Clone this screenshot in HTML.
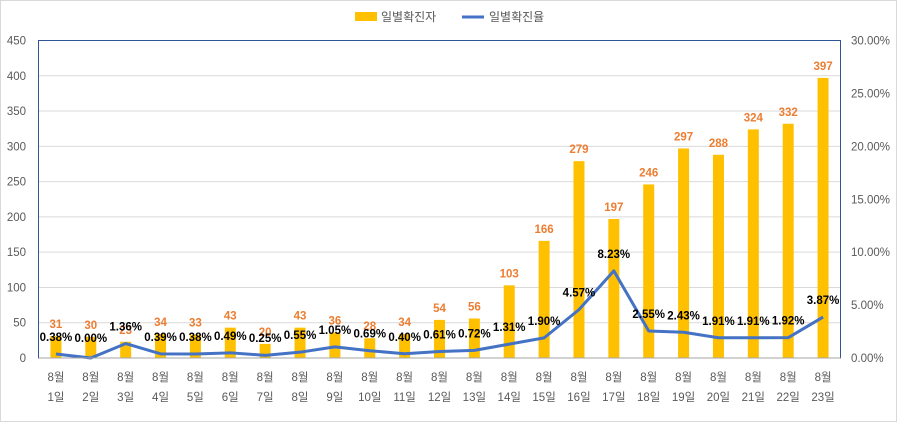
<!DOCTYPE html>
<html><head><meta charset="utf-8"><style>
html,body{margin:0;padding:0;background:#fff}
body{width:897px;height:422px;overflow:hidden}
svg text{font-family:"Liberation Sans","Noto Sans CJK KR",sans-serif}
</style></head><body>
<svg id="c" width="897" height="422" xmlns="http://www.w3.org/2000/svg">
<rect x="0.5" y="0.5" width="896" height="421" fill="#fff" stroke="#d9d9d9"/>
<g>
<rect x="355" y="12" width="22" height="9" fill="#ffc000"/>
<text x="381" y="21" font-size="12" fill="#595959">일별확진자</text>
<line x1="462" y1="17" x2="484" y2="17" stroke="#4472c4" stroke-width="3"/>
<text x="489" y="21" font-size="12" fill="#595959">일별확진율</text>
</g>
<g id="grid"></g><g id="bars"></g><g id="line"></g><g id="labels"></g><g id="axes"></g>
</svg>
<script>
const categories=["1일","2일","3일","4일","5일","6일","7일","8일","9일","10일","11일","12일","13일","14일","15일","16일","17일","18일","19일","20일","21일","22일","23일"];
const cases=[31,30,23,34,33,43,20,43,36,28,34,54,56,103,166,279,197,246,297,288,324,332,397];
const rates=[0.38,0.00,1.36,0.39,0.38,0.49,0.25,0.55,1.05,0.69,0.40,0.61,0.72,1.31,1.90,4.57,8.23,2.55,2.43,1.91,1.91,1.92,3.87];
const leftTicks=[0,50,100,150,200,250,300,350,400,450];
const rightTicks=[0,5,10,15,20,25,30];
const NS="http://www.w3.org/2000/svg";
const L=38.5,R=840.5,T=40.5,B=358;
const yL=v=>B-(v/450)*(B-T);
const yR=v=>B-(v/30)*(B-T);
const bw=(R-L)/categories.length;
const xC=i=>L+bw*(i+0.5);
function mk(tag,attrs,parent,txt){const e=document.createElementNS(NS,tag);for(const k in attrs)e.setAttribute(k,attrs[k]);if(txt!==undefined)e.textContent=txt;document.getElementById(parent).appendChild(e);return e;}
leftTicks.forEach(t=>{
 if(t>0&&t<450){const g=mk('line',{x1:L,x2:R,y1:yL(t),y2:yL(t),stroke:'#d9d9d9','stroke-width':1},'grid');
 
 }
 const e=mk('text',{x:26,y:yL(t)+4,'font-size':11.5,fill:'#595959','text-anchor':'end'},'axes',String(t));
 
 
});
rightTicks.forEach(t=>{
 const e=mk('text',{x:851,y:yR(t)+4,'font-size':11.5,fill:'#595959'},'axes',t.toFixed(2)+'%');
 
 
});
const fr=mk('rect',{x:L,y:T,width:R-L,height:B-T,fill:'none',stroke:'#2f5597','stroke-width':1},'axes');


const bl=mk('line',{x1:L,x2:R,y1:B,y2:B,stroke:'#a6a6a6'},'axes');


categories.forEach((c,i)=>{
 const x=xC(i);
 const b=mk('rect',{x:x-5.5,y:yL(cases[i]),width:11,height:B-yL(cases[i]),fill:'#ffc000'},'bars');
 
 
 const v=mk('text',{x:x,y:yL(cases[i])-8,'font-size':11.5,'font-weight':'bold',fill:'#ed7d31','text-anchor':'middle'},'labels',String(cases[i]));
 
 
 const py=yR(rates[i]);
 const p=mk('text',{x:x,y:Math.min(py-13,342),'font-size':11.5,'font-weight':'bold',fill:'#000','text-anchor':'middle'},'labels',rates[i].toFixed(2)+'%');
 
 
 const a=mk('text',{x:x,y:381,'font-size':11.5,fill:'#595959','text-anchor':'middle'},'axes','8월');
 
 
 const d=mk('text',{x:x,y:401,'font-size':11.5,fill:'#595959','text-anchor':'middle'},'axes',c);
 
 
});
const pts=rates.map((r,i)=>xC(i)+','+yR(r)).join(' ');
const ln=mk('polyline',{points:pts,fill:'none',stroke:'#4472c4','stroke-width':3,'stroke-linejoin':'round'},'line');


</script>
</body></html>
